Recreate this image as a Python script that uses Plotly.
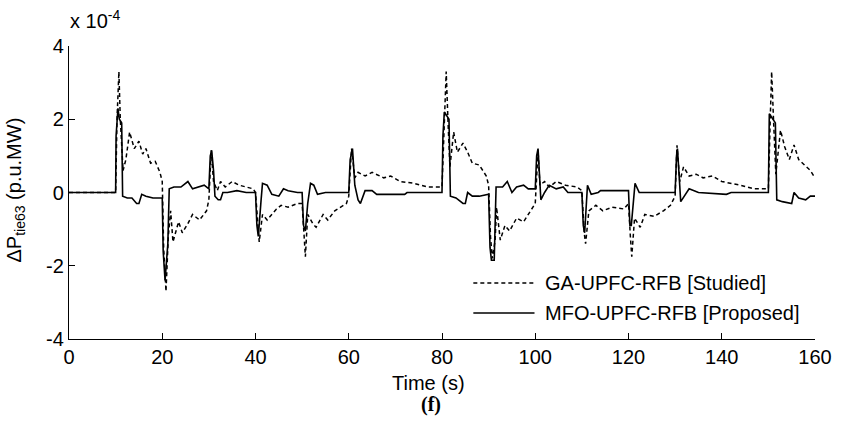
import plotly.graph_objects as go

# Time (s) and tie-line power deviation (x 1e-4 p.u.MW)
mfo_t = [0, 10.0, 10.1, 10.3, 10.5, 10.8, 11.3, 11.5, 12.5, 13.5, 14.5, 15.0, 15.6, 16.5, 18, 20.0,
         20.2, 20.6, 20.9, 21.2, 21.5, 22.5, 24, 25.5, 26.5, 28, 29, 30.0, 30.3, 30.6, 31.0, 31.3,
         32.0, 32.5, 33.0, 34, 36, 38, 40, 40.3, 40.6, 41.2, 41.5, 42.5, 43.5, 45, 46, 47, 49, 50.0,
         50.3, 50.7, 51.2, 51.8, 52.5, 53.3, 55, 60.0, 60.3, 60.8, 61.3, 62.0, 62.5, 63.5, 65, 66,
         72, 72.5, 80, 80.2, 80.5, 81.5, 81.8, 83, 84.5, 85.0, 85.5, 86.5, 88, 90, 90.3, 90.6, 91.2,
         91.6, 93, 94, 95, 96, 97.5, 98.5, 100, 100.3, 100.6, 101.2, 102, 103, 104.5, 106, 107, 110,
         110.3, 110.6, 111.2, 112, 113.5, 114, 120, 120.3, 120.6, 121.4, 122.3, 125, 130, 130.3,
         130.5, 131.2, 132, 133, 135, 141, 142, 150, 150.2, 151.0, 151.5, 151.8, 153, 155, 155.5,
         156.5, 158, 159, 160]
mfo_dp = [0, 0, 1.55, 2.1, 2.3, 2.0, 1.9, -0.1, -0.15, -0.15, -0.3, -0.3, -0.05, -0.1, -0.15, -0.15,
          -1.6, -2.4, -2.0, -1.4, 0.1, 0.15, 0.15, 0.3, 0.1, 0.15, 0.2, 0.1, 1.0, 1.15, 0.6, -0.1,
          -0.2, -0.2, 0.0, 0.0, 0.05, 0.0, 0.0, -0.9, -1.2, -0.2, 0.25, 0.2, -0.05, -0.1, 0.1, 0.05, 0, 0,
          -0.9, -1.05, -0.3, 0.25, 0.2, -0.05, 0, 0.0, 0.9, 1.2, 0.2, -0.2, -0.3, 0.05, 0.05, -0.05,
          -0.05, 0.0, 0.0, 1.55, 2.2, 2.0, -0.1, -0.15, -0.3, -0.3, 0.0, -0.1, -0.1, -0.05, -1.5, -1.85, -1.85,
          0.15, 0.15, 0.3, 0.0, 0.15, 0.2, 0.1, 0.1, 1.0, 1.2, -0.2, 0.0, 0.2, 0.1, 0.15, 0.0, 0.0,
          -0.9, -1.1, 0.2, -0.05, 0.0, 0.05, 0.05, -0.9, -0.9, 0.25, 0.0, 0.0, 0.0, 1.0,
          1.2, -0.25, -0.1, 0.1, 0.0, -0.05, 0.0, 0.0, 2.15, 2.0, 1.9, -0.2, -0.25, -0.3, 0.0,
          -0.15, -0.2, -0.1, -0.1]

ga_t = [0, 10, 10.3, 10.7, 11.0, 11.6, 12.2, 13.0, 14.0, 15.0, 15.8, 16.5, 17.5, 18.5, 19.5, 20.0,
        20.3, 20.8, 21.3, 21.8, 22.3, 23.5, 24.3, 25.5, 26.5, 28.0, 29.5, 30.0, 30.5, 31.0, 31.8,
        32.5, 33.5, 35.0, 36.5, 38, 39.5, 40.0, 40.5, 40.8, 41.5, 42.5, 44.5, 45.5, 47, 49, 50,
        50.4, 50.7, 51.2, 52.3, 53, 54.5, 55.5, 57, 59.5, 60.0, 60.6, 61.3, 62.0, 63.5, 65, 67.5,
        69, 71, 74, 77, 80, 80.5, 80.9, 81.3, 81.7, 82.5, 83.3, 84.5, 85.5, 86.5, 88, 89.5, 90.0,
        90.4, 90.8, 91.4, 91.7, 92.5, 93.5, 94.5, 96, 97.5, 99, 100, 100.6, 101, 102, 103, 104.5,
        106.5, 109, 110, 110.5, 110.8, 111.5, 113, 114.5, 116.5, 119, 120, 120.4, 120.7, 121.3,
        122.5, 123.5, 125.5, 127.5, 129, 130, 130.4, 131, 131.8, 133, 134.5, 136, 138, 140, 142,
        144, 147, 150, 150.4, 150.7, 151.1, 151.6, 152.6, 153.5, 154.5, 155.5, 156.5, 157.8, 159, 160]
ga_dp = [0, 0, 2.0, 3.3, 2.0, 0.6, 0.9, 1.65, 1.2, 1.4, 1.05, 1.2, 0.8, 0.85, 0.55, 0.3,
         -1.5, -2.7, -1.2, -0.5, -1.35, -0.8, -1.1, -0.85, -0.6, -0.75, -0.5, -0.2, 1.15, 0.3, 0.05,
         0.3, 0.15, 0.3, 0.2, 0.15, 0.1, 0.0, -1.05, -1.35, -0.6, -0.75, -0.45, -0.35, -0.4, -0.3, -0.3,
         -1.2, -1.75, -0.6, -0.85, -0.95, -0.6, -0.75, -0.5, -0.3, -0.1, 1.2, 0.4, 0.55, 0.45, 0.55, 0.4,
         0.45, 0.3, 0.25, 0.15, 0.15, 2.2, 3.3, 1.9, 0.7, 1.65, 1.1, 1.35, 1.1, 0.8, 0.75, 0.45, 0.2,
         -1.2, -1.8, -1.3, -0.4, -1.3, -0.9, -1.05, -0.7, -0.8, -0.5, -0.3, 1.15, 0.2, 0.3, 0.15, 0.3,
         0.2, 0.15, 0.05, -1.1, -1.4, -0.5, -0.35, -0.5, -0.4, -0.45, -0.3, -1.2, -1.75, -0.7,
         -0.95, -0.6, -0.65, -0.5, -0.35, -0.1, 1.29, 0.3, 0.7, 0.45, 0.5, 0.4, 0.45, 0.3, 0.25,
         0.2, 0.1, 0.1, 2.0, 3.3, 2.0, 0.5, 1.7, 1.25, 0.9, 1.3, 0.9, 0.75, 0.6, 0.4]

x_ticks = [0, 20, 40, 60, 80, 100, 120, 140, 160]
y_ticks = [-4, -2, 0, 2, 4]
y_tick_text = ["-4", "-2", "0", "2", "4"]
legend_names = ["GA-UPFC-RFB [Studied]", "MFO-UPFC-RFB [Proposed]"]

FONT = "Liberation Sans, Arial, sans-serif"
FS = 20

fig = go.Figure()
fig.add_trace(go.Scatter(x=ga_t, y=ga_dp, mode="lines", name=legend_names[0],
                         line=dict(color="black", width=1.5, dash="4px,3px"), showlegend=False))
fig.add_trace(go.Scatter(x=mfo_t, y=mfo_dp, mode="lines", name=legend_names[1],
                         line=dict(color="black", width=1.6), showlegend=False))

axis_common = dict(showline=True, linecolor="black", linewidth=1.2, mirror=False,
                   ticks="inside", ticklen=6, tickcolor="black", tickwidth=1.2,
                   showgrid=False, zeroline=False,
                   tickfont=dict(family=FONT, size=FS, color="black"))
fig.update_xaxes(range=[0, 160], tickvals=x_ticks, **axis_common)
fig.update_yaxes(range=[-4, 4], tickvals=y_ticks, ticktext=y_tick_text, **axis_common)

# manual legend
leg_y = [0.191, 0.089]
dashes = ["4px,3px", "solid"]
for yy, nm, ds in zip(leg_y, legend_names, dashes):
    fig.add_shape(type="line", xref="paper", yref="paper", x0=0.542, x1=0.624, y0=yy, y1=yy,
                  line=dict(color="black", width=1.5, dash=ds))
    fig.add_annotation(xref="paper", yref="paper", x=0.636, y=yy, text=nm, showarrow=False,
                       xanchor="left", yanchor="middle",
                       font=dict(family=FONT, size=FS, color="black"))

fig.add_annotation(xref="paper", yref="paper", x=-0.0715, y=0.509,
                   text="ΔP<sub>tie63</sub> (p.u.MW)", textangle=-90, showarrow=False,
                   xanchor="center", yanchor="middle", font=dict(family=FONT, size=FS, color="black"))
fig.add_annotation(xref="paper", yref="paper", x=-0.002, y=1.089,
                   text="x 10<sup>-4</sup>", showarrow=False,
                   xanchor="left", yanchor="middle", font=dict(family=FONT, size=FS, color="black"))
fig.add_annotation(xref="paper", yref="paper", x=0.482, y=-0.150, text="Time (s)", showarrow=False,
                   xanchor="center", yanchor="middle", font=dict(family=FONT, size=FS, color="black"))
fig.add_annotation(xref="paper", yref="paper", x=0.485, y=-0.225, text="<b>(f)</b>", showarrow=False,
                   xanchor="center", yanchor="middle",
                   font=dict(family="Liberation Serif, Times New Roman, serif", size=FS, color="black"))

fig.update_layout(width=844, height=423, margin=dict(l=69, r=20, t=46, b=84),
                  plot_bgcolor="white", paper_bgcolor="white", showlegend=False)

fig.write_html("out.html")
